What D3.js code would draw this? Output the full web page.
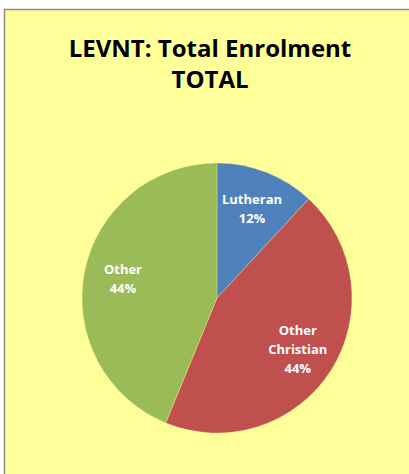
<!DOCTYPE html>
<html><head><meta charset="utf-8">
<script src="https://cdn.jsdelivr.net/npm/d3@7"></script>
<style>html,body{margin:0;padding:0;background:#fff;overflow:hidden}</style>
</head><body>
<svg id="c" width="409" height="474"></svg>
<script>
const titleLines = ["LEVNT: Total Enrolment", "TOTAL"];
const categories = ["Lutheran", "Other Christian", "Other"];
const values = [11.9, 44.3, 43.8];
const colors = ["#4F81BD", "#C0504D", "#9BBB59"];

const svg = d3.select("#c");
svg.append("rect").attr("x", 4.5).attr("y", 9.5).attr("width", 420).attr("height", 480)
  .attr("fill", "#FFFF99").attr("stroke", "#8c8c8c").attr("stroke-width", 1.5);

const font = "'Open Sans', 'Liberation Sans', sans-serif";
svg.selectAll("text.title").data(titleLines).join("text").attr("class", "title")
  .attr("x", 210).attr("y", (d, i) => 57 + i * 31)
  .attr("text-anchor", "middle").attr("font-family", font).attr("font-weight", "bold")
  .attr("font-size", 24).attr("fill", "#000").text(d => d);

const cx = 217, cy = 298, R = 135;
const total = d3.sum(values);
const pie = d3.pie().sort(null).value(d => d.v);
const data = pie(categories.map((c, i) => ({c, v: values[i], col: colors[i]})));
const arc = d3.arc().innerRadius(0).outerRadius(R);
const g = svg.append("g").attr("transform", `translate(${cx},${cy})`);
g.selectAll("path").data(data).join("path").attr("d", arc)
  .attr("fill", d => d.data.col).attr("stroke", "#FFFF99").attr("stroke-width", 0.3);

const labelArc = d3.arc().innerRadius(0).outerRadius(2 * 0.71 * R);
data.forEach(d => {
  const [x, y] = labelArc.centroid(d);
  const lines = d.data.c.split(" ").concat([Math.round(d.data.v / total * 100) + "%"]);
  const t = g.append("text").attr("text-anchor", "middle").attr("font-family", font)
    .attr("font-weight", "bold").attr("font-size", 13).attr("fill", "#fff");
  const n = lines.length, lh = 19;
  lines.forEach((l, i) => {
    t.append("tspan").attr("x", x).attr("y", y + (i - (n - 1) / 2) * lh + 4.5).text(l);
  });
});
</script>
</body></html>
